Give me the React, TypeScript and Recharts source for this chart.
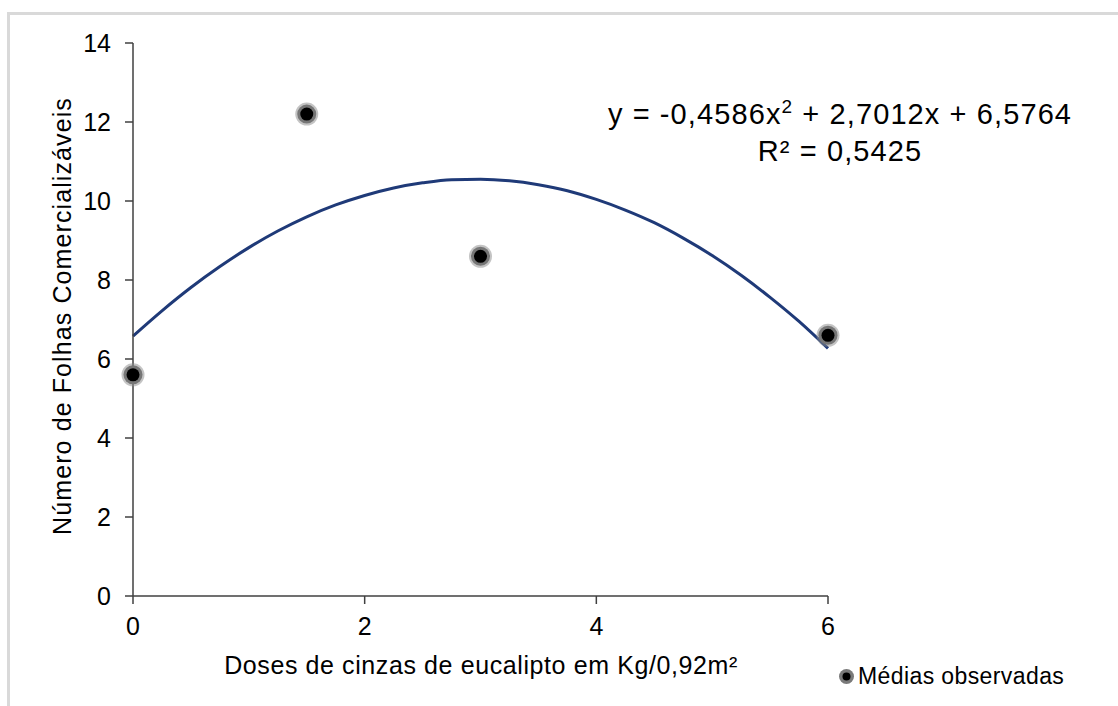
import { ComposedChart, Line, Scatter, XAxis, YAxis } from 'recharts'

const doses = [0, 1.5, 3, 6]
const observedMeans = [5.6, 12.2, 8.6, 6.6]

const trendX = [0, 0.25, 0.5, 0.75, 1, 1.25, 1.5, 1.75, 2, 2.25, 2.5, 2.75, 3, 3.25, 3.5, 3.75, 4, 4.25, 4.5, 4.75, 5, 5.25, 5.5, 5.75, 6]
const trendY = [6.58, 7.22, 7.81, 8.34, 8.82, 9.24, 9.6, 9.9, 10.14, 10.33, 10.46, 10.54, 10.55, 10.51, 10.41, 10.26, 10.04, 9.77, 9.45, 9.06, 8.62, 8.12, 7.56, 6.95, 6.27]

const xTicks = [0, 2, 4, 6]
const yTicks = [0, 2, 4, 6, 8, 10, 12, 14]

const points = doses.map((x, i) => ({ x, y: observedMeans[i] }))
const trend = trendX.map((x, i) => ({ x, y: trendY[i] }))

const FONT = '"Liberation Sans", Arial, sans-serif'
const AXIS = '#404040'

function Marker(props: any) {
  const { cx, cy } = props
  return (
    <g>
      <circle cx={cx} cy={cy} r={11.5} fill="#8a8a8a" opacity={0.5} />
      <circle cx={cx} cy={cy} r={9.5} fill="#767676" />
      <circle cx={cx} cy={cy} r={6.5} fill="#000" />
    </g>
  )
}

export default function App() {
  const tick = { fill: '#000', fontSize: 25, fontFamily: FONT }
  return (
    <div style={{ position: 'absolute', left: 0, top: 0, width: 1118, height: 706, overflow: 'hidden', background: '#fff' }}>
      <div
        style={{
          position: 'absolute',
          left: 7,
          top: 12,
          width: 1200,
          height: 800,
          borderTop: '3px solid #d9d9d9',
          borderLeft: '3px solid #d9d9d9',
        }}
      />
      <ComposedChart
        width={1118}
        height={706}
        margin={{ top: 43, right: 290, bottom: 80, left: 73 }}
        style={{ position: 'absolute', left: 0, top: 0 }}
      >
        <XAxis
          dataKey="x"
          type="number"
          domain={[0, 6]}
          ticks={xTicks}
          height={30}
          stroke={AXIS}
          strokeWidth={1.5}
          tickSize={8}
          tickMargin={13}
          tick={tick}
          allowDuplicatedCategory={false}
        />
        <YAxis
          dataKey="y"
          type="number"
          domain={[0, 14]}
          ticks={yTicks}
          width={60}
          stroke={AXIS}
          strokeWidth={1.5}
          tickSize={8}
          tickMargin={14}
          tick={tick}
        />
        <Line
          data={trend}
          dataKey="y"
          type="monotone"
          stroke="#1f3a78"
          strokeWidth={3}
          dot={false}
          activeDot={false}
          isAnimationActive={false}
        />
        <Scatter data={points} dataKey="y" shape={<Marker />} isAnimationActive={false} />
      </ComposedChart>

      <div
        style={{
          position: 'absolute',
          left: 62,
          top: 316,
          transform: 'translate(-50%, -50%) rotate(-90deg)',
          whiteSpace: 'nowrap',
          fontFamily: FONT,
          fontSize: 25,
          letterSpacing: 1.1,
          color: '#000',
        }}
      >
        Número de Folhas Comercializáveis
      </div>

      <div
        style={{
          position: 'absolute',
          left: 481,
          top: 665,
          transform: 'translate(-50%, -50%)',
          whiteSpace: 'nowrap',
          fontFamily: FONT,
          fontSize: 25,
          letterSpacing: 0.6,
          color: '#000',
        }}
      >
        Doses de cinzas de eucalipto em Kg/0,92m²
      </div>

      <div
        style={{
          position: 'absolute',
          left: 840,
          top: 96,
          transform: 'translateX(-50%)',
          whiteSpace: 'nowrap',
          fontFamily: FONT,
          fontSize: 29,
          letterSpacing: 1.1,
          lineHeight: '37px',
          textAlign: 'center',
          color: '#000',
        }}
      >
        <div>
          y = -0,4586x<sup style={{ fontSize: 19, verticalAlign: 'top', lineHeight: '22px' }}>2</sup> + 2,7012x + 6,5764
        </div>
        <div>R² = 0,5425</div>
      </div>

      <div
        style={{
          position: 'absolute',
          left: 838,
          top: 663,
          display: 'flex',
          alignItems: 'center',
          gap: 3,
          fontFamily: FONT,
          fontSize: 23,
          letterSpacing: 0.4,
          color: '#000',
        }}
      >
        <svg width={17} height={17}>
          <circle cx={8.5} cy={8.5} r={7.5} fill="#7a7a7a" />
          <circle cx={8.5} cy={8.5} r={4} fill="#000" />
        </svg>
        Médias observadas
      </div>
    </div>
  )
}
